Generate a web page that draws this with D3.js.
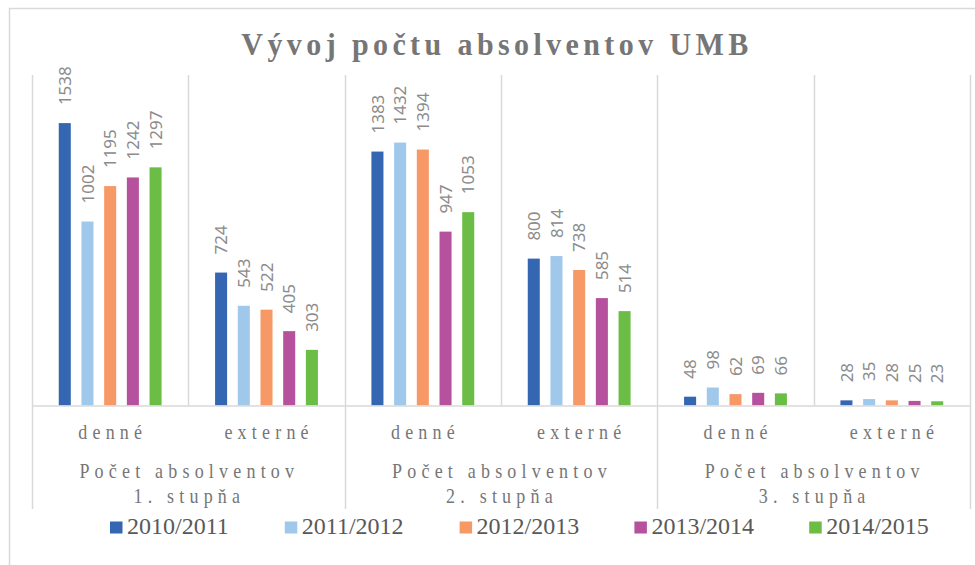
<!DOCTYPE html>
<html>
<head>
<meta charset="utf-8">
<script src="https://cdn.jsdelivr.net/npm/d3@7"></script>
<style>
  body { margin: 0; background: #fff; }
  svg { display: block; }
</style>
</head>
<body>
<div id="chart"></div>
<script>
// kategórie (dolná os, 2 úrovne)
const groups = ["Počet absolventov|1. stupňa", "Počet absolventov|2. stupňa", "Počet absolventov|3. stupňa"];
const subCats = ["denné", "externé"];
const series = ["2010/2011", "2011/2012", "2012/2013", "2013/2014", "2014/2015"];
const colors = ["#3566b1", "#a0c8eb", "#f79966", "#b5519d", "#6bbd45"];

// hodnoty: jeden riadok = jedna kategória (denné/externé pre každý stupeň)
const values1Den = [1538, 1002, 1195, 1242, 1297];
const values1Ext = [724, 543, 522, 405, 303];
const values2Den = [1383, 1432, 1394, 947, 1053];
const values2Ext = [800, 814, 738, 585, 514];
const values3Den = [48, 98, 62, 69, 66];
const values3Ext = [28, 35, 28, 25, 23];
const yMax = 1800;

const drawChart = function(id) {
  const width = 975, height = 565;
  const left = 32, right = 970, top = 75, base = 405.5;

  const rows = [values1Den, values1Ext, values2Den, values2Ext, values3Den, values3Ext];
  const cats = d3.cross(groups, subCats).map(([g, s]) => g + "#" + s);

  const x0 = d3.scaleBand().domain(cats).range([left, right]);
  const pitch = 22.7;
  const x1 = d3.scaleBand()
               .domain(series)
               .range([(x0.bandwidth() - 5 * pitch) / 2, (x0.bandwidth() + 5 * pitch) / 2])
               .paddingInner(0.47)
               .paddingOuter(0.235);
  const y = d3.scaleLinear().domain([0, yMax]).range([base, top]);
  const color = d3.scaleOrdinal().domain(series).range(colors);

  const svg = d3.create("svg")
      .attr("width", width)
      .attr("height", height)
      .attr("viewBox", [0, 0, width, height]);

  // rám grafu
  svg.append("rect")
      .attr("x", 9.5).attr("y", 8.5)
      .attr("width", 1000).attr("height", 600)
      .attr("fill", "none")
      .attr("stroke", "#d9d9d9")
      .attr("stroke-width", 1.5);

  // nadpis
  svg.append("text")
      .attr("transform", "translate(497,55) scale(1,1.08)")
      .attr("text-anchor", "middle")
      .attr("fill", "#767676")
      .style("font", "bold 30px 'Liberation Serif', 'Times New Roman', serif")
      .style("letter-spacing", "4.4px")
      .text("Vývoj počtu absolventov UMB");

  // zvislé čiary mriežky
  const bounds = d3.range(cats.length + 1).map(i => i < cats.length ? x0(cats[i]) : right);
  svg.append("g")
      .selectAll("line")
      .data(bounds)
      .join("line")
      .attr("x1", d => Math.round(d) + 0.5)
      .attr("x2", d => Math.round(d) + 0.5)
      .attr("y1", top)
      .attr("y2", (d, i) => i % 2 === 0 ? 509 : base)
      .attr("stroke", "#d9d9d9")
      .attr("stroke-width", 1.5);

  // stĺpce
  const cell = svg.append("g")
      .selectAll("g")
      .data(cats)
      .join("g")
      .attr("transform", d => `translate(${x0(d)},0)`);

  cell.selectAll("rect")
      .data((d, i) => rows[i].map((v, j) => ({s: series[j], v})))
      .join("rect")
      .attr("x", d => x1(d.s))
      .attr("y", d => y(d.v))
      .attr("width", x1.bandwidth())
      .attr("height", d => base - y(d.v))
      .attr("fill", d => color(d.s));

  // popisky hodnôt
  cell.selectAll("text")
      .data((d, i) => rows[i].map((v, j) => ({s: series[j], v})))
      .join("text")
      .attr("transform", d => `translate(${x1(d.s) + x1.bandwidth() / 2},${y(d.v) - 18}) rotate(-90)`)
      .attr("dy", "0.36em")
      .attr("fill", "#8c8c8c")
      .style("font", "17px 'Noto Sans', sans-serif")
      .text(d => d.v);

  // os x
  svg.append("line")
      .attr("x1", left).attr("x2", right)
      .attr("y1", base + 0.5).attr("y2", base + 0.5)
      .attr("stroke", "#d9d9d9")
      .attr("stroke-width", 1.5);

  const serif = "18px 'Liberation Serif', 'Times New Roman', serif";

  svg.append("g")
      .selectAll("text")
      .data(cats)
      .join("text")
      .attr("transform", d => `translate(${x0(d) + x0.bandwidth() / 2 + 2.6},439) scale(1,1.14)`)
      .attr("text-anchor", "middle")
      .attr("fill", "#767676")
      .style("font", serif)
      .style("letter-spacing", "5.2px")
      .text(d => d.split("#")[1]);

  const grp = svg.append("g")
      .selectAll("text")
      .data(groups)
      .join("text")
      .attr("text-anchor", "middle")
      .attr("fill", "#767676")
      .style("font", serif)
      .style("letter-spacing", "5.2px")
      .attr("transform", (d, i) => `translate(${x0(cats[i * 2]) + x0.bandwidth() + 1},478) scale(1,1.14)`);

  grp.selectAll("tspan")
      .data(d => d.split("|"))
      .join("tspan")
      .attr("x", 0)
      .attr("y", (d, i) => i * 25 / 1.14)
      .text(d => d);

  // legenda
  const legend = svg.append("g")
      .selectAll("g")
      .data(series)
      .join("g")
      .attr("transform", (d, i) => `translate(${110 + i * 174.8},521.5)`);

  legend.append("rect")
      .attr("width", 12.5)
      .attr("height", 12)
      .attr("fill", d => color(d));

  legend.append("text")
      .attr("x", 17)
      .attr("y", 12.8)
      .attr("fill", "#595959")
      .style("font", "24px 'Liberation Serif', 'Times New Roman', serif")
      .text(d => d);

  return svg.node();
}

document.getElementById("chart").append(drawChart("chart"));
</script>
</body>
</html>
